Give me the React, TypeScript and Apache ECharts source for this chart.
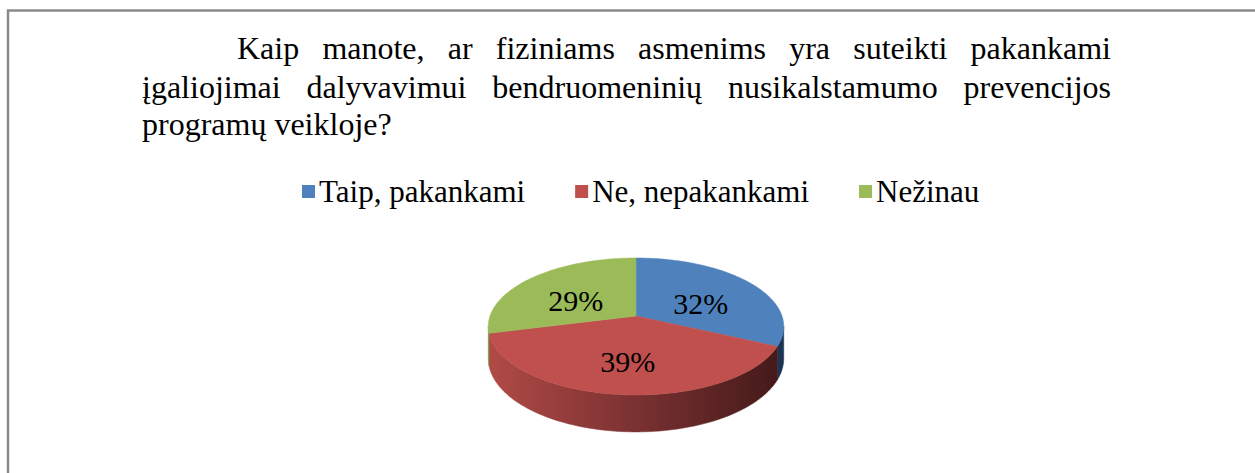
import React, { useEffect, useRef } from 'react';
import * as echarts from 'echarts';

// ---- data ----
const categories = ['Taip, pakankami', 'Ne, nepakankami', 'Nežinau'];
const values = [32, 39, 29];
const titleLines = [
  'Kaip manote, ar fiziniams asmenims yra suteikti pakankami',
  'įgaliojimai dalyvavimui bendruomeninių nusikalstamumo prevencijos',
  'programų veikloje?',
];

// ---- styles ----
const topColors = ['#4F81BD', '#C0504D', '#9BBB59'];
const sideStops: [number, string][][] = [
  [[0, '#335a88'], [1, '#1c3352']],
  [[0, '#b04a47'], [0.5, '#7a3131'], [1, '#431919']],
  [[0, '#7f9a49'], [1, '#4a5a2a']],
];
const FONT = "'Liberation Serif', 'Times New Roman', serif";
// pie geometry (with a mild perspective)
const CX = 636, CY = 316, RX = 146, RY = 66.9, K = 0.153, DEPTH = 31.3;
const LABEL_R = 0.55, LABEL_DY = 6;

function pt(a: number, r = 1, dy = 0): number[] {
  const w = 1 + K * r * Math.cos(a);
  return [CX + (RX * r * Math.sin(a)) / w, CY - (RY * r * Math.cos(a)) / w + dy / w];
}
function arc(a0: number, a1: number, dy: number): number[][] {
  const n = Math.max(2, Math.ceil(Math.abs(a1 - a0) / (Math.PI / 120)));
  const pts: number[][] = [];
  for (let i = 0; i <= n; i++) pts.push(pt(a0 + ((a1 - a0) * i) / n, 1, dy));
  return pts;
}

function makeTitleGraphics(): any[] {
  const ctx = document.createElement('canvas').getContext('2d')!;
  const size = 32;
  ctx.font = `${size}px ${FONT}`;
  const layout = [
    { left: 237, right: 1111, y: 48, justify: true },
    { left: 142, right: 1111, y: 87, justify: true },
    { left: 142, right: 1111, y: 124, justify: false },
  ];
  const out: any[] = [];
  titleLines.forEach((line, li) => {
    const L = layout[li];
    const words = line.split(' ');
    const widths = words.map((w) => ctx.measureText(w).width);
    const sum = widths.reduce((a, b) => a + b, 0);
    const space = ctx.measureText(' ').width;
    const gap = L.justify && words.length > 1 ? (L.right - L.left - sum) / (words.length - 1) : space;
    let x = L.left;
    words.forEach((w, i) => {
      out.push({
        type: 'text',
        x,
        y: L.y,
        style: { text: w, font: `${size}px ${FONT}`, fill: '#000', align: 'left', verticalAlign: 'middle' },
      });
      x += widths[i] + gap;
    });
  });
  return out;
}

export default function App() {
  const ref = useRef<HTMLDivElement>(null);
  useEffect(() => {
    if (!ref.current) return;
    const chart = echarts.init(ref.current, undefined, { renderer: 'svg' });
    const total = values.reduce((a, b) => a + b, 0);
    const visA = Math.acos(-K);
    const visB = Math.PI * 2 - visA;

    const series = categories.map((name, si) => ({
      type: 'custom',
      name,
      coordinateSystem: 'none',
      itemStyle: { color: topColors[si] },
      data: [[values[si]]],
      renderItem: () => {
        const before = values.slice(0, si).reduce((a, b) => a + b, 0);
        const start = (before / total) * Math.PI * 2;
        const end = ((before + values[si]) / total) * Math.PI * 2;
        const children: any[] = [];
        const s0 = Math.max(start, visA);
        const s1 = Math.min(end, visB);
        if (s1 > s0) {
          const pts = arc(s0, s1, 0).concat(arc(s1, s0, DEPTH));
          const grad = {
            type: 'linear', x: CX - RX, y: 0, x2: CX + RX, y2: 0, global: true,
            colorStops: sideStops[si].map(([o, c]) => ({ offset: o, color: c })),
          };
          children.push({
            type: 'polygon',
            shape: { points: pts },
            style: { fill: grad, stroke: grad, lineWidth: 0.5 },
          });
        }
        const topPts = [[CX, CY]].concat(arc(start, end, 0));
        children.push({
          type: 'polygon',
          shape: { points: topPts },
          style: { fill: topColors[si], stroke: topColors[si], lineWidth: 0.5 },
        });
        const mid = (start + end) / 2;
        const [lx, ly] = pt(mid, LABEL_R, 0);
        children.push({
          type: 'text',
          x: lx,
          y: ly + LABEL_DY,
          z2: 10,
          style: {
            text: Math.round((values[si] / total) * 100) + '%',
            font: `30px ${FONT}`,
            fill: '#000',
            align: 'center',
            verticalAlign: 'middle',
          },
        });
        return { type: 'group', children };
      },
    }));

    chart.setOption({
      animation: false,
      backgroundColor: '#fff',
      legend: {
        data: categories,
        left: 297,
        top: 171,
        icon: 'rect',
        itemWidth: 13,
        itemHeight: 13,
        itemGap: 50,
        textStyle: { fontSize: 31, fontFamily: FONT, color: '#000', padding: [0, 0, 0, -1] },
      },
      graphic: [
        {
          type: 'rect',
          shape: { x: 8, y: 10.5, width: 1500, height: 800 },
          style: { fill: 'none', stroke: '#8a8a8a', lineWidth: 2.5 },
          silent: true,
        },
        ...makeTitleGraphics(),
      ],
      series,
    });
    return () => chart.dispose();
  }, []);
  return (
    <div
      ref={ref}
      style={{ position: 'absolute', left: 0, top: 0, width: 1255, height: 473 }}
    />
  );
}
